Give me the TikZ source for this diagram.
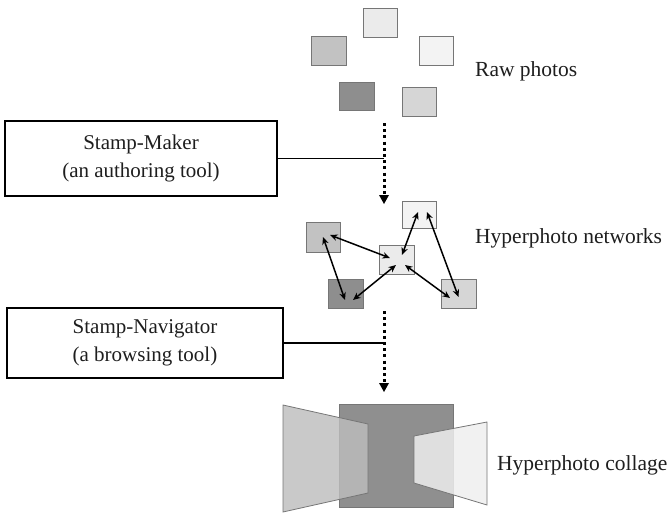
\documentclass[tikz,border=0pt]{standalone}
\usepackage{fontspec}
\setmainfont{Liberation Serif}
\usetikzlibrary{arrows.meta,calc}
\definecolor{edgegray}{HTML}{767676}
\definecolor{inkgray}{HTML}{1E1E1E}
\definecolor{pA}{HTML}{EBEBEB}
\definecolor{pB}{HTML}{C2C2C2}
\definecolor{pC}{HTML}{F3F3F3}
\definecolor{pD}{HTML}{8E8E8E}
\definecolor{pE}{HTML}{D6D6D6}
\definecolor{collageDark}{HTML}{8F8F8F}
\definecolor{collageLeft}{HTML}{BDBDBD}
\definecolor{collageRight}{HTML}{EEEEEE}
\tikzset{
  photo/.style={draw=edgegray, line width=1pt, minimum width=34pt, minimum height=29pt, inner sep=0pt},
  toolbox/.style={draw=black, line width=1.4pt, inner sep=0pt, align=center, text=inkgray,
    font=\fontsize{21}{28}\selectfont},
  label/.style={anchor=base west, inner sep=0pt, text=inkgray, font=\fontsize{21.5}{24}\selectfont},
  flow/.style={line width=3pt, dash pattern=on 3pt off 3.2pt,
    -{Triangle[width=10pt,length=9pt,line width=0pt]}},
  link/.style={line width=1.5pt,
    {Stealth[length=7.5pt,width=6.5pt]}-{Stealth[length=7.5pt,width=6.5pt]}},
  leader/.style={line width=1.4pt},
}
\begin{document}
\begin{tikzpicture}[x=1pt,y=-1pt]
\useasboundingbox (0,0) rectangle (672,514);

% raw photos
\node[photo, fill=pA] (r1) at (380,22.5) {};
\node[photo, fill=pB, minimum width=35pt] (r2) at (328.5,50.5) {};
\node[photo, fill=pC] (r3) at (436,50.5) {};
\node[photo, fill=pD, minimum width=35pt, minimum height=28pt] (r4) at (356.5,96) {};
\node[photo, fill=pE] (r5) at (419,102) {};
\node[label] (rawlbl) at (475,76) {Raw photos};

% authoring step
\coordinate (f1s) at (384,123);
\coordinate (f1e) at (384,204);
\draw[flow] (f1s) -- (f1e);
\node[toolbox, minimum width=272pt, minimum height=75pt] (maker) at (141,158.5)
  {Stamp-Maker\\(an authoring tool)};
\draw[leader] (maker.east) -- (maker.east -| f1s);

% hyperphoto network
\node[photo, fill=pC, minimum height=27pt] (nTR) at (419,214.5) {};
\node[photo, fill=pB, minimum height=30pt] (nL) at (323,237) {};
\node[photo, fill=pA, minimum width=35pt] (nC) at (396.5,259.5) {};
\node[photo, fill=pD, minimum width=35pt] (nBL) at (345.5,293.5) {};
\node[photo, fill=pE, minimum width=35pt] (nBR) at (458.5,293.5) {};
\node[label] (netlbl) at (475,243) {Hyperphoto networks};

\draw[link] (nL.center) -- ([shift={(-0.5,6.5)}]nBL.center);
\draw[link] ([shift={(7,-2)}]nL.center) -- ([shift={(-6.5,-1.5)}]nC.center);
\draw[link] ([shift={(5.5,-4.5)}]nC.center) -- ([shift={(-1,-2.5)}]nTR.center);
\draw[link] ([shift={(8,-2.5)}]nTR.center) -- ([shift={(0,3.5)}]nBR.center);
\draw[link] ([shift={(8.5,5.5)}]nC.center) -- ([shift={(-8.5,4.5)}]nBR.center);
\draw[link] ([shift={(-0.5,5.5)}]nC.center) -- ([shift={(7.5,6.5)}]nBL.center);

% browsing step
\coordinate (f2s) at (384,311);
\coordinate (f2e) at (384,392);
\draw[flow] (f2s) -- (f2e);
\node[toolbox, minimum width=276pt, minimum height=70pt] (navigator) at (145,343)
  {Stamp-Navigator\\(a browsing tool)};
\draw[leader] (navigator.east) -- (navigator.east -| f2s);

% hyperphoto collage
\draw[draw=edgegray, line width=0.8pt, fill=collageDark] (339,404) rectangle (453,507);
\draw[draw=edgegray, line width=0.8pt, fill=collageLeft, fill opacity=0.82]
  (283,405) -- (368,424) -- (368,493) -- (283,512) -- cycle;
\draw[draw=edgegray, line width=0.8pt, fill=collageRight, fill opacity=0.85]
  (414,436) -- (487,422) -- (487,505) -- (414,483) -- cycle;
\node[label] (collagelbl) at (497,470) {Hyperphoto collage};
\end{tikzpicture}
\end{document}
